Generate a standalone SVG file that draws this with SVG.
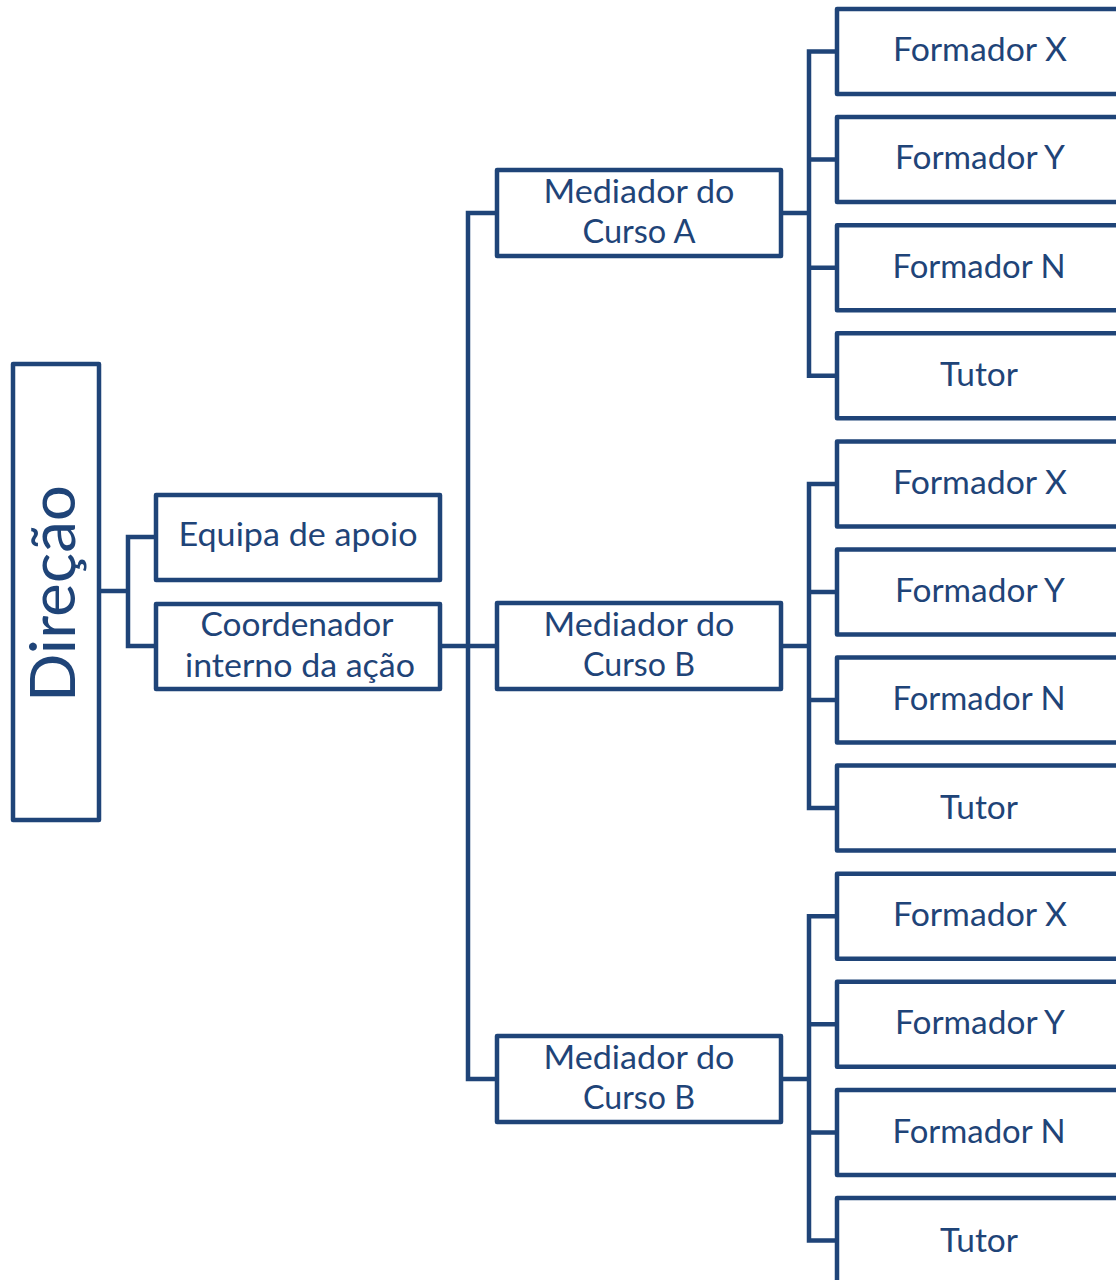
<svg xmlns="http://www.w3.org/2000/svg" width="1116" height="1280" viewBox="0 0 1116 1280">
<style>
.box{fill:#ffffff;stroke:#1F4478;stroke-width:4.5;stroke-linejoin:round}
.ln{fill:none;stroke:#1F4478;stroke-width:4.5;stroke-linejoin:round;stroke-linecap:square}
.t{font-family:Lato,"Noto Sans","Liberation Sans",sans-serif;font-size:32px;fill:#1F4478;text-anchor:middle}
.big{font-size:62px}
</style>
<rect width="1116" height="1280" fill="#ffffff"/>
<g id="connectors">
<path class="ln" d="M99 591H128M128 537V646M128 537H156M128 646H156"/>
<path class="ln" d="M440 646H497M468 213V1079M468 213H497M468 1079H497"/>
<path class="ln" d="M781 213H809M809 51.5V375.8M809 51.5H837M809 159.6H837M809 267.7H837M809 375.8H837"/>
<path class="ln" d="M781 646H809M809 483.9V808.1M809 483.9H837M809 592H837M809 700H837M809 808.1H837"/>
<path class="ln" d="M781 1079H809M809 916.2V1240.5M809 916.2H837M809 1024.3H837M809 1132.4H837M809 1240.5H837"/>
</g>
<g id="direcao">
<rect class="box" x="13" y="364" width="86" height="456"/>
<text class="t big" x="75" y="593.5" transform="rotate(-90 75 593.5)" textLength="217" lengthAdjust="spacingAndGlyphs">Direção</text>
</g>
<g id="equipa">
<rect class="box" x="156" y="495" width="284" height="85"/>
<text class="t" x="298" y="546" textLength="239" lengthAdjust="spacingAndGlyphs">Equipa de apoio</text>
</g>
<g id="coordenador">
<rect class="box" x="156" y="604" width="284" height="85"/>
<text class="t" x="297" y="636" textLength="193" lengthAdjust="spacingAndGlyphs">Coordenador</text>
<text class="t" x="300" y="677" textLength="230" lengthAdjust="spacingAndGlyphs">interno da ação</text>
</g>
<g id="mediador-a">
<rect class="box" x="497" y="170" width="284" height="86"/>
<text class="t" x="639" y="203" textLength="191" lengthAdjust="spacingAndGlyphs">Mediador do</text>
<text class="t" x="639" y="243" textLength="113" lengthAdjust="spacingAndGlyphs">Curso A</text>
</g>
<g id="mediador-b1">
<rect class="box" x="497" y="603" width="284" height="86"/>
<text class="t" x="639" y="636" textLength="191" lengthAdjust="spacingAndGlyphs">Mediador do</text>
<text class="t" x="639" y="676" textLength="112" lengthAdjust="spacingAndGlyphs">Curso B</text>
</g>
<g id="mediador-b2">
<rect class="box" x="497" y="1036" width="284" height="86"/>
<text class="t" x="639" y="1069" textLength="191" lengthAdjust="spacingAndGlyphs">Mediador do</text>
<text class="t" x="639" y="1109" textLength="112" lengthAdjust="spacingAndGlyphs">Curso B</text>
</g>
<g id="a-formador-x"><rect class="box" x="837" y="9" width="300" height="85"/><text class="t" x="980" y="61" textLength="174" lengthAdjust="spacingAndGlyphs">Formador X</text></g>
<g id="a-formador-y"><rect class="box" x="837" y="117.1" width="300" height="85"/><text class="t" x="980" y="169" textLength="170" lengthAdjust="spacingAndGlyphs">Formador Y</text></g>
<g id="a-formador-n"><rect class="box" x="837" y="225.2" width="300" height="85"/><text class="t" x="979" y="277.5" textLength="173" lengthAdjust="spacingAndGlyphs">Formador N</text></g>
<g id="a-tutor"><rect class="box" x="837" y="333.3" width="300" height="85"/><text class="t" x="979" y="386" textLength="78" lengthAdjust="spacingAndGlyphs">Tutor</text></g>
<g id="b1-formador-x"><rect class="box" x="837" y="441.4" width="300" height="85"/><text class="t" x="980" y="493.5" textLength="174" lengthAdjust="spacingAndGlyphs">Formador X</text></g>
<g id="b1-formador-y"><rect class="box" x="837" y="549.5" width="300" height="85"/><text class="t" x="980" y="601.5" textLength="170" lengthAdjust="spacingAndGlyphs">Formador Y</text></g>
<g id="b1-formador-n"><rect class="box" x="837" y="657.5" width="300" height="85"/><text class="t" x="979" y="710" textLength="173" lengthAdjust="spacingAndGlyphs">Formador N</text></g>
<g id="b1-tutor"><rect class="box" x="837" y="765.6" width="300" height="85"/><text class="t" x="979" y="818.5" textLength="78" lengthAdjust="spacingAndGlyphs">Tutor</text></g>
<g id="b2-formador-x"><rect class="box" x="837" y="873.7" width="300" height="85"/><text class="t" x="980" y="926" textLength="174" lengthAdjust="spacingAndGlyphs">Formador X</text></g>
<g id="b2-formador-y"><rect class="box" x="837" y="981.8" width="300" height="85"/><text class="t" x="980" y="1034" textLength="170" lengthAdjust="spacingAndGlyphs">Formador Y</text></g>
<g id="b2-formador-n"><rect class="box" x="837" y="1089.9" width="300" height="85"/><text class="t" x="979" y="1142.5" textLength="173" lengthAdjust="spacingAndGlyphs">Formador N</text></g>
<g id="b2-tutor"><rect class="box" x="837" y="1198" width="300" height="85"/><text class="t" x="979" y="1251.5" textLength="78" lengthAdjust="spacingAndGlyphs">Tutor</text></g>
</svg>
